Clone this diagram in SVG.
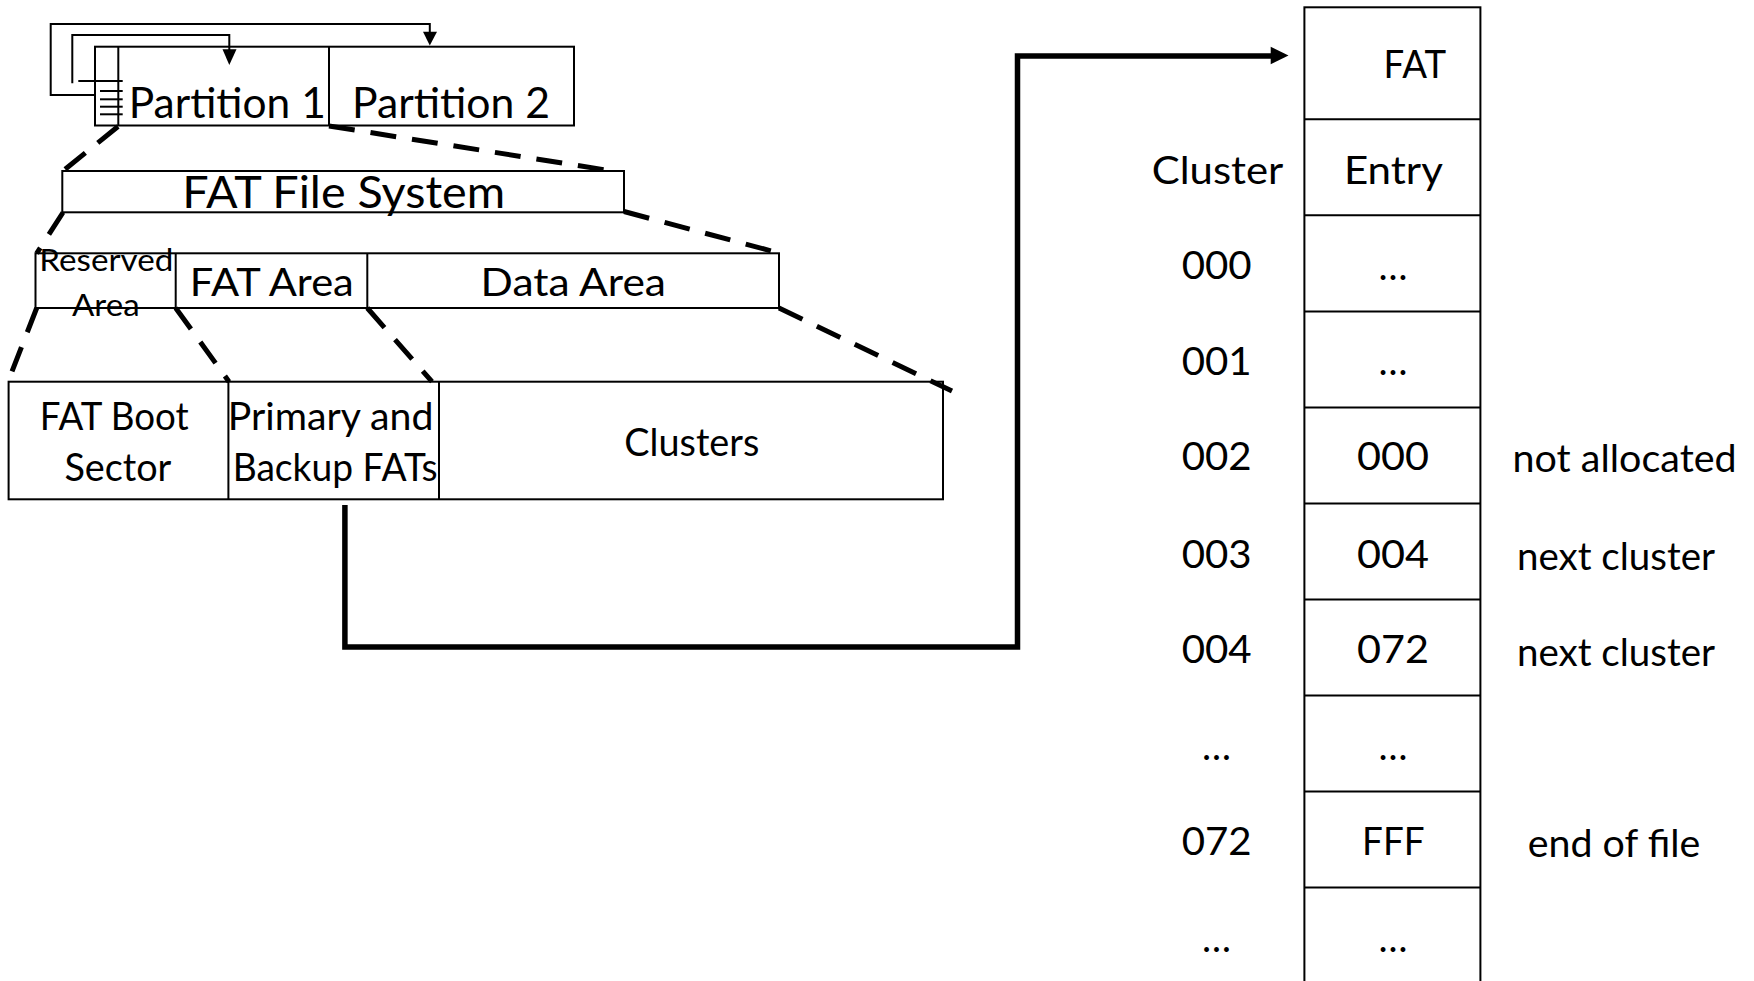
<svg xmlns="http://www.w3.org/2000/svg" width="1754" height="981" viewBox="0 0 1754 981">
  <style>
    .box { fill: #ffffff; stroke: #000000; stroke-width: 2; }
    .sep { stroke: #000000; stroke-width: 2; fill: none; }
    .thin { stroke: #000000; stroke-width: 2; fill: none; }
    .dash { stroke: #000000; stroke-width: 5; fill: none; stroke-dasharray: 26 16; }
    .thick { stroke: #000000; stroke-width: 5.5; fill: none; stroke-linejoin: miter; }
    text { font-family: Lato, "Liberation Sans", sans-serif; fill: #000000; text-anchor: middle; }
    .t44 { font-size: 44px; }
    .t42 { font-size: 42px; }
    .t39 { font-size: 39.5px; }
    .t38 { font-size: 38.5px; }
    .t30 { font-size: 30px; }
  </style>

  <rect width="1754" height="981" fill="#ffffff"/>

  <!-- partitions on the disk -->
  <g id="partitions">
    <rect class="box" x="95" y="46.7" width="479" height="78.8"/>
    <line class="sep" x1="329" y1="46.7" x2="329" y2="125.5"/>
    <line class="sep" x1="118.3" y1="46.7" x2="118.3" y2="125.5"/>
    <line class="thin" x1="78.3" y1="81" x2="122.7" y2="81"/>
    <line class="thin" x1="100" y1="91" x2="122.7" y2="91"/>
    <line class="thin" x1="100" y1="99.3" x2="122.7" y2="99.3"/>
    <line class="thin" x1="100" y1="106.7" x2="122.7" y2="106.7"/>
    <line class="thin" x1="100" y1="114.3" x2="122.7" y2="114.3"/>
    <text class="t42" x="227.3" y="118.3" textLength="197" lengthAdjust="spacingAndGlyphs">Partition 1</text>
    <text class="t42" x="451" y="118.3" textLength="198" lengthAdjust="spacingAndGlyphs">Partition 2</text>
  </g>

  <!-- file system overview -->
  <g id="fat-file-system">
    <rect class="box" x="62.3" y="171" width="561.7" height="41.3"/>
    <text class="t44" x="343.7" y="208.3" textLength="323" lengthAdjust="spacingAndGlyphs">FAT File System</text>
  </g>

  <!-- the three areas -->
  <g id="areas">
    <rect class="box" x="35.5" y="253.3" width="743.5" height="54.7"/>
    <line class="sep" x1="175.7" y1="253.3" x2="175.7" y2="308"/>
    <line class="sep" x1="367.3" y1="253.3" x2="367.3" y2="308"/>
    <text class="t30" x="106.3" y="270.7" textLength="134" lengthAdjust="spacingAndGlyphs">Reserved</text>
    <text class="t30" x="105.8" y="315.5" textLength="67.6" lengthAdjust="spacingAndGlyphs">Area</text>
    <text class="t39" x="271.8" y="296" textLength="164" lengthAdjust="spacingAndGlyphs">FAT Area</text>
    <text class="t39" x="573.3" y="296" textLength="185.4" lengthAdjust="spacingAndGlyphs">Data Area</text>
  </g>

  <!-- on-disk layout -->
  <g id="layout">
    <rect class="box" x="8.6" y="381.7" width="934.4" height="117.6"/>
    <line class="sep" x1="228.4" y1="381.7" x2="228.4" y2="499.3"/>
    <line class="sep" x1="439" y1="381.7" x2="439" y2="499.3"/>
    <text class="t38" x="114.2" y="430" textLength="148.8" lengthAdjust="spacingAndGlyphs">FAT Boot</text>
    <text class="t38" x="117.9" y="481" textLength="107" lengthAdjust="spacingAndGlyphs">Sector</text>
    <text class="t38" x="330.6" y="430" textLength="205.7" lengthAdjust="spacingAndGlyphs">Primary and</text>
    <text class="t38" x="335.2" y="481" textLength="205" lengthAdjust="spacingAndGlyphs">Backup FATs</text>
    <text class="t38" x="691.8" y="456" textLength="135" lengthAdjust="spacingAndGlyphs">Clusters</text>
  </g>

  <!-- FAT table -->
  <g id="fat-table">
    <rect class="box" x="1304.4" y="7.3" width="176" height="990"/>
    <line class="sep" x1="1304.4" y1="119.3" x2="1480.4" y2="119.3"/>
    <line class="sep" x1="1304.4" y1="215.3" x2="1480.4" y2="215.3"/>
    <line class="sep" x1="1304.4" y1="311.5" x2="1480.4" y2="311.5"/>
    <line class="sep" x1="1304.4" y1="407.5" x2="1480.4" y2="407.5"/>
    <line class="sep" x1="1304.4" y1="503.5" x2="1480.4" y2="503.5"/>
    <line class="sep" x1="1304.4" y1="599.5" x2="1480.4" y2="599.5"/>
    <line class="sep" x1="1304.4" y1="695.5" x2="1480.4" y2="695.5"/>
    <line class="sep" x1="1304.4" y1="791.5" x2="1480.4" y2="791.5"/>
    <line class="sep" x1="1304.4" y1="887.5" x2="1480.4" y2="887.5"/>
    <text class="t38" x="1414.8" y="78.3" textLength="62.4" lengthAdjust="spacingAndGlyphs">FAT</text>
    <text class="t38" x="1393.4" y="184.3" textLength="99" lengthAdjust="spacingAndGlyphs">Entry</text>
    <text class="t38" x="1393" y="280" textLength="29" lengthAdjust="spacingAndGlyphs">…</text>
    <text class="t38" x="1393" y="375" textLength="29" lengthAdjust="spacingAndGlyphs">…</text>
    <text class="t38" x="1393" y="470" textLength="72" lengthAdjust="spacingAndGlyphs">000</text>
    <text class="t38" x="1393" y="568.3" textLength="72" lengthAdjust="spacingAndGlyphs">004</text>
    <text class="t38" x="1393" y="663.3" textLength="72" lengthAdjust="spacingAndGlyphs">072</text>
    <text class="t38" x="1393" y="760" textLength="29" lengthAdjust="spacingAndGlyphs">…</text>
    <text class="t38" x="1393.3" y="855" textLength="62.5" lengthAdjust="spacingAndGlyphs">FFF</text>
    <text class="t38" x="1393" y="951.7" textLength="29" lengthAdjust="spacingAndGlyphs">…</text>
  </g>

  <!-- cluster numbers -->
  <g id="cluster-column">
    <text class="t38" x="1217.5" y="184.3" textLength="131.6" lengthAdjust="spacingAndGlyphs">Cluster</text>
    <text class="t38" x="1216.7" y="278.8" textLength="70" lengthAdjust="spacingAndGlyphs">000</text>
    <text class="t38" x="1216.7" y="375" textLength="70" lengthAdjust="spacingAndGlyphs">001</text>
    <text class="t38" x="1216.7" y="470" textLength="70" lengthAdjust="spacingAndGlyphs">002</text>
    <text class="t38" x="1216.7" y="568.3" textLength="70" lengthAdjust="spacingAndGlyphs">003</text>
    <text class="t38" x="1216.7" y="663.3" textLength="70" lengthAdjust="spacingAndGlyphs">004</text>
    <text class="t38" x="1216.6" y="760" textLength="29" lengthAdjust="spacingAndGlyphs">…</text>
    <text class="t38" x="1216.7" y="855" textLength="70" lengthAdjust="spacingAndGlyphs">072</text>
    <text class="t38" x="1216.6" y="951.7" textLength="29" lengthAdjust="spacingAndGlyphs">…</text>
  </g>

  <!-- entry meanings -->
  <g id="notes">
    <text class="t38" x="1624.6" y="472" textLength="224" lengthAdjust="spacingAndGlyphs">not allocated</text>
    <text class="t38" x="1616" y="570" textLength="198" lengthAdjust="spacingAndGlyphs">next cluster</text>
    <text class="t38" x="1616" y="666" textLength="198" lengthAdjust="spacingAndGlyphs">next cluster</text>
    <text class="t38" x="1614" y="857" textLength="172.5" lengthAdjust="spacingAndGlyphs">end of file</text>
  </g>

  <g id="connectors">
    <!-- partition table pointers -->
    <path class="thin" d="M95,95 H50.7 V24 H429.8 V33"/>
    <polygon points="423,31.7 437,31.7 429.8,45.5"/>
    <path class="thin" d="M72.3,83.3 V35 H229.3 V50"/>
    <polygon points="222.5,49.3 236.5,49.3 229.3,65"/>

    <!-- zoom-in guides -->
    <line class="dash" x1="118" y1="126.5" x2="63" y2="171"/>
    <line class="dash" x1="329" y1="126" x2="606" y2="170"/>
    <line class="dash" x1="63" y1="212.5" x2="36.7" y2="253.3"/>
    <line class="dash" x1="624" y1="211.5" x2="779" y2="253"/>
    <line class="dash" x1="36.7" y1="308" x2="8" y2="381.7"/>
    <line class="dash" x1="175.7" y1="308" x2="229" y2="381.7"/>
    <line class="dash" x1="367.3" y1="308" x2="432" y2="381.7"/>
    <line class="dash" x1="779" y1="308" x2="952" y2="391"/>

    <!-- FATs to table -->
    <path class="thick" d="M344.9,505 V647 H1017.5 V56 H1272"/>
    <polygon points="1270.7,46.7 1288.5,55.5 1270.7,64.3"/>
  </g>
</svg>
